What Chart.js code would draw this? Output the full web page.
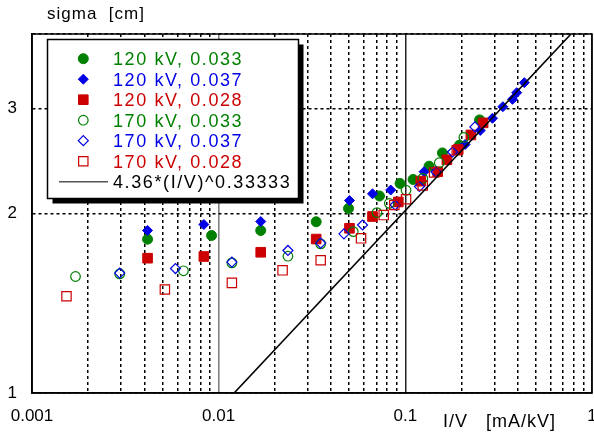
<!DOCTYPE html>
<html>
<head>
<meta charset="utf-8">
<script src="https://cdn.jsdelivr.net/npm/chart.js@4.4.1/dist/chart.umd.min.js"></script>
<style>
  html, body { margin: 0; padding: 0; background: #fff; }
  #wrap { width: 594px; height: 434px; }
</style>
</head>
<body>
<div id="wrap"><canvas id="sigmaChart" width="594" height="434"></canvas></div>
<script>
// ---- Data ----
const xTicks = [0.001, 0.002, 0.003, 0.004, 0.005, 0.006, 0.007, 0.008, 0.009,
                0.01, 0.02, 0.03, 0.04, 0.05, 0.06, 0.07, 0.08, 0.09,
                0.1, 0.2, 0.3, 0.4, 0.5, 0.6, 0.7, 0.8, 0.9, 1];
const xLabels = { 0.001: '0.001', 0.01: '0.01', 0.1: '0.1', 1: '1' };
const yTicks = [1, 2, 3, 4];
const yLabels = { 1: '1', 2: '2', 3: '3' };

const labels = ['120 kV, 0.033', '120 kV, 0.037', '120 kV, 0.028',
                '170 kV, 0.033', '170 kV, 0.037', '170 kV, 0.028',
                '4.36*(I/V)^0.33333'];

const x120a = [0.00416, 0.00916, 0.0168, 0.0333, 0.0496, 0.0727, 0.0937, 0.110, 0.134, 0.158, 0.195, 0.250];
const y120a = [1.811, 1.837, 1.873, 1.937, 2.039, 2.140, 2.246, 2.281, 2.401, 2.527, 2.604, 2.871];

const x120b = [0.00416, 0.00833, 0.0168, 0.0502, 0.0667, 0.0835, 0.126, 0.209, 0.252, 0.293, 0.333, 0.375, 0.395, 0.434];
const y120b = [1.873, 1.917, 1.939, 2.103, 2.158, 2.190, 2.350, 2.611, 2.756, 2.889, 3.021, 3.108, 3.189, 3.315];

const x120c = [0.00416, 0.00833, 0.0168, 0.0333, 0.0502, 0.0667, 0.0917, 0.121, 0.149, 0.167, 0.192, 0.2245, 0.261];
const y120c = [1.683, 1.694, 1.722, 1.812, 1.889, 1.977, 2.091, 2.266, 2.350, 2.461, 2.561, 2.709, 2.838];

const x170a = [0.00171, 0.00295, 0.00648, 0.01177, 0.0235, 0.0352, 0.0526, 0.0705, 0.0821, 0.1009, 0.124, 0.152, 0.206];
const y170a = [1.568, 1.584, 1.603, 1.653, 1.696, 1.779, 1.865, 2.007, 2.080, 2.188, 2.290, 2.433, 2.683];

const x170b = [0.00295, 0.00587, 0.01177, 0.0235, 0.0352, 0.0469, 0.0590, 0.0881, 0.119, 0.146, 0.179, 0.236];
const y170b = [1.589, 1.617, 1.658, 1.734, 1.784, 1.849, 1.913, 2.067, 2.220, 2.348, 2.536, 2.794];

const x170c = [0.00153, 0.00515, 0.01177, 0.0220, 0.0352, 0.0579, 0.0766, 0.0873, 0.1009, 0.124, 0.1425, 0.1886];
const y170c = [1.453, 1.491, 1.530, 1.606, 1.670, 1.817, 1.988, 2.067, 2.113, 2.228, 2.343, 2.554];

// fit line end points where it leaves the plot
const xFit = [0.0121, 0.772];
const yFit = [1, 4];

const GREEN = '#008000', BLUE = '#0000e6', RED = '#cc0000';
const FONT = '"Liberation Sans", Arial, sans-serif';

const pts = (xs, ys) => xs.map((x, i) => ({ x: x, y: ys[i] }));

function marker(lbl, xs, ys, color, style, r, filled) {
  return {
    label: lbl,
    data: pts(xs, ys),
    showLine: false,
    pointStyle: style,
    pointRadius: r,
    pointHoverRadius: r,
    pointBorderWidth: filled ? 1 : 1.2,
    borderColor: color,
    backgroundColor: filled ? color : 'rgba(0,0,0,0)'
  };
}

const xMajor = v => [0.001, 0.01, 0.1, 1].some(m => Math.abs(v - m) < m * 1e-6);

// ---- Frame, titles and boxed legend ----
const decorPlugin = {
  id: 'decor',
  afterDraw(chart) {
    const { ctx, chartArea: a } = chart;
    ctx.save();
    ctx.strokeStyle = '#000';
    ctx.lineWidth = 1.5;
    ctx.strokeRect(a.left, a.top, a.right - a.left, a.bottom - a.top);

    ctx.fillStyle = '#000';
    ctx.letterSpacing = '1px';
    ctx.font = '17px ' + FONT;
    ctx.textBaseline = 'alphabetic';
    ctx.fillText('sigma  [cm]', 47, 19);
    ctx.font = '18px ' + FONT;
    ctx.fillText('I/V   [mA/kV]', 443, 427);

    // legend box with drop shadow
    const bx = 47.5, by = 39.5, bw = 251, bh = 159;
    ctx.fillStyle = '#000';
    ctx.fillRect(bx + 5, by + 5, bw, bh);
    ctx.fillStyle = '#fff';
    ctx.fillRect(bx, by, bw, bh);
    ctx.lineWidth = 1.5;
    ctx.strokeRect(bx, by, bw, bh);

    ctx.font = '18px ' + FONT;
    ctx.letterSpacing = '1.6px';
    chart.data.datasets.forEach((ds, i) => {
      const y = 58.7 + i * 20.5;
      if (ds.showLine) {
        ctx.strokeStyle = '#555';
        ctx.lineWidth = 1.5;
        ctx.beginPath();
        ctx.moveTo(59, y);
        ctx.lineTo(108, y);
        ctx.stroke();
        ctx.fillStyle = '#000';
      } else {
        drawMark(ctx, ds, 83.3, y);
        ctx.fillStyle = ds.borderColor;
      }
      ctx.fillText(ds.label, 113, y + 6.5);
    });
    ctx.restore();
  }
};

function drawMark(ctx, ds, x, y) {
  const r = ds.pointRadius;
  ctx.beginPath();
  if (ds.pointStyle === 'circle') {
    ctx.arc(x, y, r, 0, Math.PI * 2);
  } else if (ds.pointStyle === 'rectRot') {
    ctx.moveTo(x, y - r); ctx.lineTo(x + r, y); ctx.lineTo(x, y + r); ctx.lineTo(x - r, y);
    ctx.closePath();
  } else {
    const s = r * Math.SQRT1_2;
    ctx.rect(x - s, y - s, 2 * s, 2 * s);
  }
  ctx.fillStyle = ds.backgroundColor;
  ctx.fill();
  ctx.strokeStyle = ds.borderColor;
  ctx.lineWidth = ds.pointBorderWidth;
  ctx.stroke();
}

const noPad = s => { s.paddingLeft = 0; s.paddingRight = 0; s.paddingTop = 0; s.paddingBottom = 0; };

new Chart(document.getElementById('sigmaChart'), {
  type: 'scatter',
  data: {
    datasets: [
      { label: labels[6], type: 'line', data: pts(xFit, yFit), showLine: true,
        borderColor: '#000', borderWidth: 1.6, pointRadius: 0, fill: false, order: 0 },
      Object.assign(marker(labels[5], x170c, y170c, RED, 'rect', 6.6, false), { order: 1 }),
      Object.assign(marker(labels[4], x170b, y170b, BLUE, 'rectRot', 5, false), { order: 2 }),
      Object.assign(marker(labels[3], x170a, y170a, GREEN, 'circle', 4.8, false), { order: 3 }),
      Object.assign(marker(labels[2], x120c, y120c, RED, 'rect', 6.8, true), { order: 4 }),
      Object.assign(marker(labels[1], x120b, y120b, BLUE, 'rectRot', 5, true), { order: 5 }),
      Object.assign(marker(labels[0], x120a, y120a, GREEN, 'circle', 5, true), { order: 6 })
    ].reverse()
  },
  options: {
    responsive: false,
    animation: false,
    events: [],
    layout: { autoPadding: false, padding: { top: 34, right: 2, left: 0, bottom: 0 } },
    plugins: { legend: { display: false }, tooltip: { enabled: false } },
    scales: {
      x: {
        type: 'logarithmic',
        min: 0.001, max: 1,
        afterBuildTicks: s => { s.ticks = xTicks.map(v => ({ value: v })); },
        afterFit: s => { s.height = 41; noPad(s); },
        ticks: {
          autoSkip: false, maxRotation: 0, padding: 13, color: '#000',
          font: { family: FONT, size: 17 },
          callback: v => xLabels[v] || ''
        },
        grid: {
          drawTicks: false,
          color: c => {
            const v = c.tick ? c.tick.value : 0;
            if (xMajor(v)) return Math.abs(v - 0.01) < 1e-8 ? '#808080' : '#222';
            return '#000';
          },
          lineWidth: c => {
            const v = c.tick ? c.tick.value : 0;
            return xMajor(v) && Math.abs(v - 0.01) < 1e-8 ? 1.6 : 1.5;
          }
        },
        border: {
          color: '#000', width: 1.5,
          dash: c => (c.tick && !xMajor(c.tick.value)) ? [3, 3] : []
        }
      },
      y: {
        type: 'logarithmic',
        min: 1, max: 4,
        afterBuildTicks: s => { s.ticks = yTicks.map(v => ({ value: v })); },
        afterFit: s => { s.width = 32; noPad(s); },
        ticks: {
          autoSkip: false, padding: 15, color: '#000',
          font: { family: FONT, size: 17 },
          callback: v => yLabels[v] || ''
        },
        grid: { drawTicks: false, color: '#000', lineWidth: 1.5 },
        border: { color: '#000', width: 1.5, dash: [3, 3] }
      }
    }
  },
  plugins: [decorPlugin]
});
</script>
</body>
</html>
